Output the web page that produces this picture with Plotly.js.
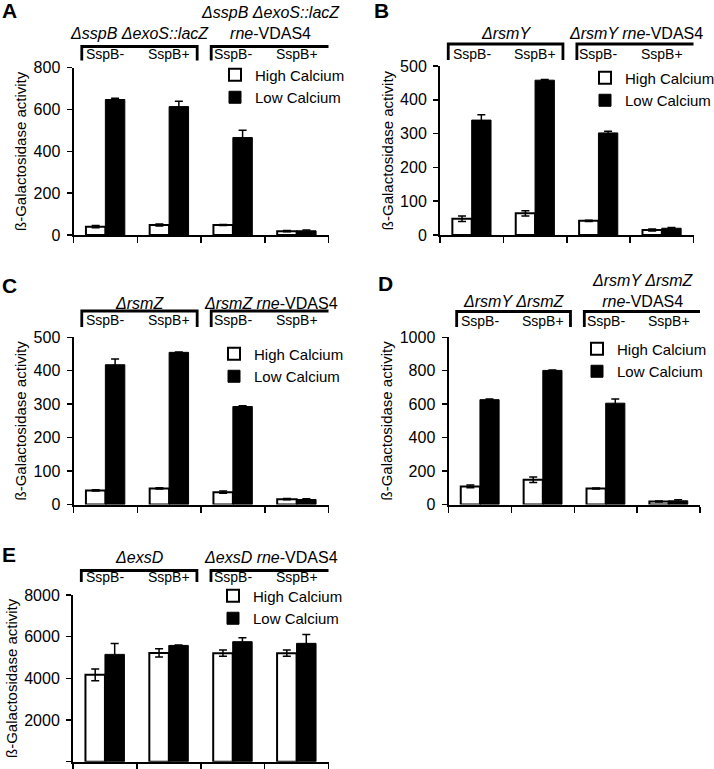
<!DOCTYPE html>
<html>
<head>
<meta charset="utf-8">
<script src="https://cdn.plot.ly/plotly-3.0.1.min.js"></script>
<style>
html,body{margin:0;padding:0;background:#fff;}
#chart{width:714px;height:769px;}
</style>
</head>
<body>
<div id="chart"></div>
<script>
// ---------- data ----------
const categories = ["SspB- (strain 1)", "SspB+ (strain 1)", "SspB- (strain 2)", "SspB+ (strain 2)"];
const sspbLabels = ["SspB-", "SspB+", "SspB-", "SspB+"];
const seriesNames = ["High Calcium", "Low Calcium"];
const panelLetters = ["A", "B", "C", "D", "E"];
const yTitle = "ß-Galactosidase activity";

const A_high = [40, 48, 48, 18];
const A_highErr = [5, 5, 2, 3];
const A_low = [648, 614, 466, 20];
const A_lowErr = [6, 25, 35, 4];

const B_high = [48, 64, 42, 15];
const B_highErr = [8, 8, 2, 3];
const B_low = [340, 458, 302, 20];
const B_lowErr = [16, 2, 5, 2];

const C_high = [42, 48, 37, 16];
const C_highErr = [2, 2, 3, 2];
const C_low = [418, 455, 293, 15];
const C_lowErr = [17, 1, 2, 2];

const D_high = [108, 148, 96, 18];
const D_highErr = [8, 16, 3, 3];
const D_low = [627, 802, 606, 22];
const D_lowErr = [4, 3, 25, 6];

const E_high = [4170, 5220, 5210, 5210];
const E_highErr = [280, 200, 150, 150];
const E_low = [5150, 5580, 5760, 5680];
const E_lowErr = [520, 20, 190, 420];

const A_groupTitles = ["<i>ΔsspB ΔexoS::lacZ</i>", "<i>ΔsspB ΔexoS::lacZ</i><br><i>rne</i>-VDAS4"];
const B_groupTitles = ["<i>ΔrsmY</i>", "<i>ΔrsmY rne</i>-VDAS4"];
const C_groupTitles = ["<i>ΔrsmZ</i>", "<i>ΔrsmZ rne</i>-VDAS4"];
const D_groupTitles = ["<i>ΔrsmY ΔrsmZ</i>", "<i>ΔrsmY ΔrsmZ</i><br><i>rne</i>-VDAS4"];
const E_groupTitles = ["<i>ΔexsD</i>", "<i>ΔexsD rne</i>-VDAS4"];

const yMax = [800, 500, 500, 1000, 8000];
const yStep = [200, 100, 100, 200, 2000];

// ---------- layout helpers (pixel geometry) ----------
const W = 714, H = 769;
const px = p => p / W;
const py = p => 1 - p / H;
const FONT = "Liberation Sans, Arial, Helvetica, sans-serif";

const highs = [A_high, B_high, C_high, D_high, E_high];
const highErrs = [A_highErr, B_highErr, C_highErr, D_highErr, E_highErr];
const lows = [A_low, B_low, C_low, D_low, E_low];
const lowErrs = [A_lowErr, B_lowErr, C_lowErr, D_lowErr, E_lowErr];
const titles = [A_groupTitles, B_groupTitles, C_groupTitles, D_groupTitles, E_groupTitles];

// plot-area boxes [left, right, top, bottom] in px
const boxes = [
  [73.5, 328.5, 67.7, 235],
  [440, 693.5, 66, 235],
  [73.5, 328.5, 337.3, 504.5],
  [448.5, 700, 337.3, 504.5],
  [73, 328.5, 595, 761.7]
];
// header geometry: [titleCenterY, bracketTopY, bracketBottomY, labelY]
const headers = [
  [33, 46.5, 60.5, 54],
  [33, 44, 60, 54],
  [302, 311, 327, 320],
  [300.5, 311.5, 327, 320.5],
  [556.5, 570.5, 582, 577]
];
const letterPos = [[0, 11], [372, 10], [0, 285], [376, 283], [0, 554]];
const legendPos = [[215, 58.5], [585, 61.5], [214, 337.5], [577, 332.5], [213, 579.5]];

const bracketSpans = [[-0.37, 1.44], [1.66, 3.53]];
const xIdx = categories.map((c, i) => i);

const traces = [];
const layout = {
  width: W, height: H,
  margin: {l: 0, r: 0, t: 0, b: 0, autoexpand: false},
  paper_bgcolor: "#fff", plot_bgcolor: "rgba(0,0,0,0)",
  font: {family: FONT, color: "#000", size: 16},
  barmode: "group", bargap: 0.39, bargroupgap: 0,
  shapes: [], annotations: []
};

for (let i = 0; i < 5; i++) {
  const sfx = i === 0 ? "" : String(i + 1);
  const xa = "x" + sfx, ya = "y" + sfx;
  const lg = "legend" + sfx;
  const b = boxes[i];

  traces.push({
    type: "bar", name: seriesNames[0], x: xIdx, y: highs[i],
    xaxis: xa, yaxis: ya, legend: lg,
    marker: {color: "#ffffff", line: {color: "#000", width: 2}},
    error_y: {type: "data", array: highErrs[i], visible: true, color: "#000", thickness: 1.5, width: 4},
    hoverinfo: "y"
  });
  traces.push({
    type: "bar", name: seriesNames[1], x: xIdx, y: lows[i],
    xaxis: xa, yaxis: ya, legend: lg,
    marker: {color: "#000000", line: {color: "#000", width: 1}},
    error_y: {type: "data", array: lowErrs[i], visible: true, color: "#000", thickness: 1.5, width: 4},
    hoverinfo: "y"
  });

  layout["xaxis" + sfx] = {
    domain: [px(b[0]), px(b[1])], anchor: ya,
    range: [-0.5, 3.5], fixedrange: true,
    tickmode: "array", tickvals: [-0.5, 0.5, 1.5, 2.5, 3.5],
    showticklabels: false, ticks: "outside", ticklen: 6, tickwidth: 1.5, tickcolor: "#000",
    showline: true, linecolor: "#000", linewidth: 2,
    showgrid: false, zeroline: false
  };
  layout["yaxis" + sfx] = {
    domain: [py(b[3]), py(b[2])], anchor: xa,
    range: [0, yMax[i]], dtick: yStep[i], tick0: 0, fixedrange: true,
    ticks: "outside", ticklen: 5, tickwidth: 1.5, tickcolor: "#000",
    ticklabelstandoff: 3,
    showline: true, linecolor: "#000", linewidth: 2,
    showgrid: false, zeroline: false,
    tickfont: {size: 16, family: FONT, color: "#000"},
    title: {text: yTitle, font: {size: 15, family: FONT, color: "#000"}, standoff: 3}
  };
  layout[lg] = {
    x: px(legendPos[i][0]), y: py(legendPos[i][1]), xanchor: "left", yanchor: "top",
    bgcolor: "rgba(0,0,0,0)", borderwidth: 0, tracegroupgap: 0,
    font: {size: 15, family: FONT, color: "#000"}
  };

  // panel letter
  layout.annotations.push({
    text: "<b>" + panelLetters[i] + "</b>", xref: "paper", yref: "paper",
    x: px(letterPos[i][0]), y: py(letterPos[i][1]), xanchor: "left", yanchor: "middle",
    showarrow: false, font: {size: 21, family: FONT, color: "#000"}
  });

  const hd = headers[i];
  for (let g = 0; g < 2; g++) {
    const s = bracketSpans[g];
    layout.shapes.push({
      type: "path", xref: xa, yref: "paper",
      path: "M" + s[0] + "," + py(hd[2]) + " L" + s[0] + "," + py(hd[1]) +
            " L" + s[1] + "," + py(hd[1]) + " L" + s[1] + "," + py(hd[2]),
      line: {color: "#000", width: 2.8}
    });
    layout.annotations.push({
      text: titles[i][g], xref: xa, yref: "paper",
      x: (s[0] + s[1]) / 2, y: py(hd[0] + 11.5), xanchor: "center", yanchor: "bottom",
      showarrow: false, font: {size: 16, family: FONT, color: "#000"}
    });
  }
  for (let k = 0; k < 4; k++) {
    layout.annotations.push({
      text: sspbLabels[k], xref: xa, yref: "paper",
      x: xIdx[k], y: py(hd[3]), xanchor: "center", yanchor: "middle",
      showarrow: false, font: {size: 14, family: FONT, color: "#000"}
    });
  }
}

Plotly.newPlot("chart", traces, layout, {displayModeBar: false, staticPlot: true});
</script>
</body>
</html>
